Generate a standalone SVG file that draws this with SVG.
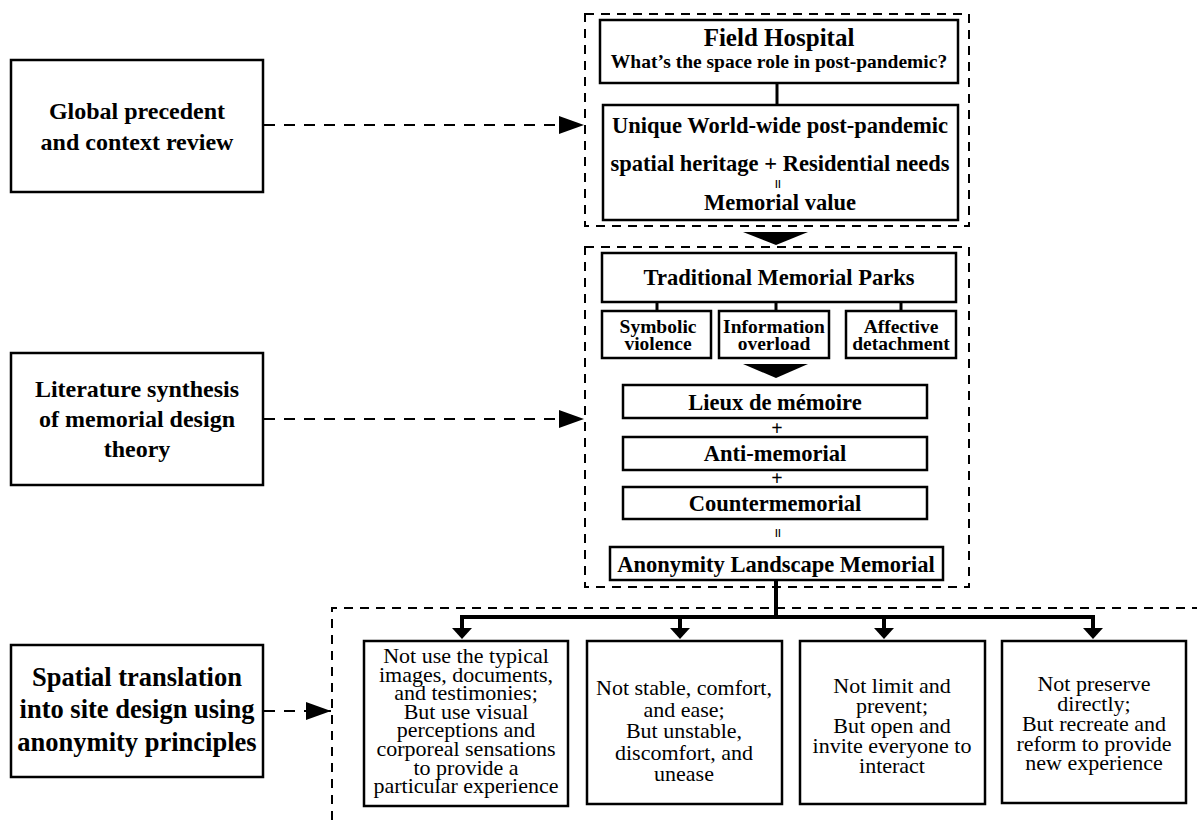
<svg xmlns="http://www.w3.org/2000/svg" width="1197" height="820" viewBox="0 0 1197 820">
<defs>
<style>
.box{fill:#fff;stroke:#000;stroke-width:2.5}
.dbox{fill:none;stroke:#000;stroke-width:2;stroke-dasharray:9 7}
.dl{fill:none;stroke:#000;stroke-width:2;stroke-dasharray:11 9}
.sl{fill:none;stroke:#000;stroke-width:3}
.tl{fill:none;stroke:#000;stroke-width:4}
.b{font-family:"Liberation Serif","Times New Roman",serif;font-weight:bold;text-anchor:middle;fill:#000}
.r{font-family:"Liberation Serif","Times New Roman",serif;text-anchor:middle;font-size:22px;fill:#000}
.eq{font-family:"Liberation Serif","Times New Roman",serif;font-weight:bold;font-size:17px;text-anchor:middle;dominant-baseline:central;fill:#000}
</style>
<marker id="ah" markerUnits="userSpaceOnUse" markerWidth="26" markerHeight="18" refX="25" refY="9" orient="auto">
<polygon points="0,0 25,9 0,18" fill="#000"/>
</marker>
</defs>

<g id="frames">
<rect class="dbox" x="585" y="14" width="384" height="212"/>
<rect class="dbox" x="585" y="247" width="384" height="340"/>
<path class="dbox" d="M332,820 V608 H1197"/>
</g>

<g id="connectors">
<line class="dl" x1="264" y1="125" x2="584" y2="125" marker-end="url(#ah)"/>
<line class="dl" x1="264" y1="419" x2="584" y2="419" marker-end="url(#ah)"/>
<line class="dl" x1="264" y1="711" x2="331" y2="711" marker-end="url(#ah)"/>
<line class="sl" x1="777" y1="83" x2="777" y2="105"/>
<polygon points="743,232 808,232 776,245" fill="#000"/>
<line class="sl" x1="657" y1="302" x2="657" y2="311"/>
<line class="sl" x1="776" y1="302" x2="776" y2="311"/>
<line class="sl" x1="901" y1="302" x2="901" y2="311"/>
<polygon points="743,364 808,364 776,378" fill="#000"/>
<line class="tl" x1="776" y1="580" x2="776" y2="617"/>
<line class="tl" x1="460" y1="617" x2="1095" y2="617"/>
<line class="tl" x1="462" y1="615" x2="462" y2="630"/>
<line class="tl" x1="680" y1="615" x2="680" y2="630"/>
<line class="tl" x1="884" y1="615" x2="884" y2="630"/>
<line class="tl" x1="1093" y1="615" x2="1093" y2="630"/>
<polygon points="452,628 472,628 462,639" fill="#000"/>
<polygon points="670,628 690,628 680,639" fill="#000"/>
<polygon points="874,628 894,628 884,639" fill="#000"/>
<polygon points="1083,628 1103,628 1093,639" fill="#000"/>
</g>

<g id="global-review">
<rect class="box" x="11" y="60" width="252" height="132"/>
<text class="b" font-size="24" x="137" y="119">Global precedent</text>
<text class="b" font-size="24" x="137" y="150">and context review</text>
</g>

<g id="literature-synthesis">
<rect class="box" x="11" y="353" width="252" height="132"/>
<text class="b" font-size="24" x="137" y="397">Literature synthesis</text>
<text class="b" font-size="24" x="137" y="427">of memorial design</text>
<text class="b" font-size="24" x="137" y="457">theory</text>
</g>

<g id="spatial-translation">
<rect class="box" x="11" y="645" width="252" height="132"/>
<text class="b" font-size="26.5" x="137" y="686">Spatial translation</text>
<text class="b" font-size="26.5" x="137" y="718">into site design using</text>
<text class="b" font-size="26.5" x="137" y="751">anonymity principles</text>
</g>

<g id="field-hospital">
<rect class="box" x="600" y="20" width="358" height="63"/>
<text class="b" font-size="25" x="779" y="46">Field Hospital</text>
<text class="b" font-size="19.5" x="779" y="68">What’s the space role in post-pandemic?</text>
</g>

<g id="memorial-value">
<rect class="box" x="603" y="105" width="355" height="115"/>
<text class="b" font-size="22.5" x="780" y="133">Unique World-wide post-pandemic</text>
<text class="b" font-size="22.5" x="780" y="171">spatial heritage + Residential needs</text>
<text class="eq" x="0" y="0" transform="translate(777,184) rotate(90)">=</text>
<text class="b" font-size="22.5" x="780" y="210">Memorial value</text>
</g>

<g id="traditional-parks">
<rect class="box" x="602" y="253" width="354" height="49"/>
<text class="b" font-size="22.5" x="779" y="285">Traditional Memorial Parks</text>
</g>

<g id="symbolic-violence">
<rect class="box" x="602" y="311" width="109" height="47"/>
<text class="b" font-size="19.5" x="658" y="333">Symbolic</text>
<text class="b" font-size="19.5" x="658" y="350">violence</text>
</g>

<g id="information-overload">
<rect class="box" x="719" y="311" width="110" height="47"/>
<text class="b" font-size="19.5" x="774" y="333">Information</text>
<text class="b" font-size="19.5" x="774" y="350">overload</text>
</g>

<g id="affective-detachment">
<rect class="box" x="846" y="311" width="110" height="47"/>
<text class="b" font-size="19.5" x="901" y="333">Affective</text>
<text class="b" font-size="19.5" x="901" y="350">detachment</text>
</g>

<g id="lieux">
<rect class="box" x="623" y="385" width="304" height="33"/>
<text class="b" font-size="22.5" x="775" y="410">Lieux de mémoire</text>
</g>
<text class="b" font-size="20" x="777" y="435">+</text>

<g id="anti-memorial">
<rect class="box" x="623" y="437" width="304" height="33"/>
<text class="b" font-size="22.5" x="775" y="461">Anti-memorial</text>
</g>
<text class="b" font-size="20" x="777" y="485">+</text>

<g id="countermemorial">
<rect class="box" x="623" y="487" width="304" height="32"/>
<text class="b" font-size="22.5" x="775" y="511">Countermemorial</text>
</g>
<text class="eq" x="0" y="0" transform="translate(777,533) rotate(90)">=</text>

<g id="anonymity-memorial">
<rect class="box" x="610" y="547" width="333" height="33"/>
<text class="b" font-size="22.5" x="776" y="572">Anonymity Landscape Memorial</text>
</g>

<g id="principle-1">
<rect class="box" x="364" y="641" width="204" height="165"/>
<text class="r" x="466" y="663">Not use the typical</text>
<text class="r" x="466" y="681.6">images, documents,</text>
<text class="r" x="466" y="700.2">and testimonies;</text>
<text class="r" x="466" y="718.8">But use visual</text>
<text class="r" x="466" y="737.4">perceptions and</text>
<text class="r" x="466" y="756">corporeal sensations</text>
<text class="r" x="466" y="774.6">to provide a</text>
<text class="r" x="466" y="793.2">particular experience</text>
</g>

<g id="principle-2">
<rect class="box" x="587" y="641" width="195" height="163"/>
<text class="r" x="684" y="695">Not stable, comfort,</text>
<text class="r" x="684" y="716.5">and ease;</text>
<text class="r" x="684" y="738">But unstable,</text>
<text class="r" x="684" y="759.5">discomfort, and</text>
<text class="r" x="684" y="781">unease</text>
</g>

<g id="principle-3">
<rect class="box" x="800" y="641" width="185" height="163"/>
<text class="r" x="892" y="693">Not limit and</text>
<text class="r" x="892" y="713">prevent;</text>
<text class="r" x="892" y="733">But open and</text>
<text class="r" x="892" y="753">invite everyone to</text>
<text class="r" x="892" y="773">interact</text>
</g>

<g id="principle-4">
<rect class="box" x="1002" y="641" width="184" height="162"/>
<text class="r" x="1094" y="691">Not preserve</text>
<text class="r" x="1094" y="711">directly;</text>
<text class="r" x="1094" y="731">But recreate and</text>
<text class="r" x="1094" y="751">reform to provide</text>
<text class="r" x="1094" y="770">new experience</text>
</g>
</svg>
